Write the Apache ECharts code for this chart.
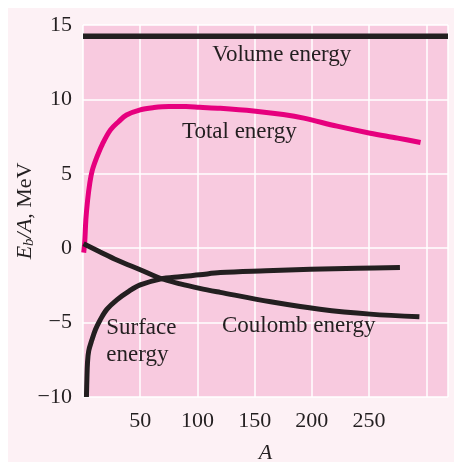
<!DOCTYPE html>
<html>
<head>
<meta charset="utf-8">
<script src="https://cdn.jsdelivr.net/npm/echarts@6/dist/echarts.min.js"></script>
<style>
html,body{margin:0;padding:0;background:#fff;}
#wrap{position:absolute;left:8px;top:8px;width:446px;height:454px;background:#fdf1f5;}
#c{width:446px;height:454px;}
</style>
</head>
<body>
<div id="wrap"><div id="c"></div></div>
<script>
// ---- data (A, Eb/A in MeV) ----
var xTicks = [50, 100, 150, 200, 250];
var yTicks = [-10, -5, 0, 5, 10, 15];
var volumeA = [0, 319];
var volumeE = [14.25, 14.25];
var totalA = [0.6, 1.5, 2.5, 4, 6, 8, 12, 17, 24, 31, 38, 50, 62, 75, 90, 102, 120, 149, 175, 193, 222, 251, 275, 295];
var totalE = [-0.3, 0.4, 1.9, 3.2, 4.4, 5.2, 6.1, 7.0, 7.95, 8.5, 8.95, 9.3, 9.45, 9.52, 9.52, 9.47, 9.4, 9.22, 8.98, 8.74, 8.2, 7.73, 7.4, 7.1];
var surfaceA = [3, 3.4, 3.9, 5, 7.8, 11, 15, 21, 29.6, 40, 50, 67.5, 85, 102, 120, 160, 199, 240, 277];
var surfaceE = [-10, -8.8, -7.73, -6.9, -6.16, -5.45, -4.82, -4.1, -3.47, -2.9, -2.47, -2.08, -1.92, -1.79, -1.64, -1.52, -1.42, -1.35, -1.3];
var coulombA = [0.5, 15, 29.6, 50, 67.5, 85, 102, 120, 164, 207, 251, 294];
var coulombE = [0.3, -0.25, -0.79, -1.45, -2.02, -2.4, -2.7, -2.97, -3.6, -4.1, -4.43, -4.6];
// labels: text, anchor A (left edge), anchor E (vertical centre)
var labelTexts = ['Volume energy', 'Total energy', 'Surface', 'energy', 'Coulomb energy'];
var labelA = [113, 86.5, 20.3, 20.3, 121.4];
var labelE = [12.98, 7.83, -5.35, -7.17, -5.22];

function pairs(a, b) { return a.map(function (v, i) { return [v, b[i]]; }); }

var ink = '#231f20';
var serif = '"Liberation Serif", "DejaVu Serif", serif';
var chart = echarts.init(document.getElementById('c'));
var option = {
  animation: false,
  backgroundColor: 'transparent',
  textStyle: { fontFamily: serif },
  grid: { left: 75, top: 17, width: 365, height: 372, show: true, backgroundColor: '#f8cadf', borderWidth: 0,
    containLabel: false, outerBoundsMode: 'none' },
  xAxis: {
    type: 'value', min: 0, max: 319, interval: 50,
    axisLine: { show: false }, axisTick: { show: false },
    splitLine: { show: true, lineStyle: { color: '#ffffff', width: 1.5 } },
    axisLabel: { margin: 13, color: ink, fontSize: 22, fontFamily: serif,
      formatter: function (v) { return xTicks.indexOf(v) >= 0 ? String(v) : ''; } },
    name: 'A', nameLocation: 'middle', nameGap: 45, nameMoveOverlap: false,
    nameTextStyle: { color: ink, fontSize: 22, fontStyle: 'italic', fontFamily: serif }
  },
  yAxis: {
    type: 'value', min: -10, max: 15, interval: 5,
    axisLine: { show: false }, axisTick: { show: false },
    splitLine: { show: true, lineStyle: { color: '#ffffff', width: 1.5 } },
    axisLabel: { margin: 11, color: ink, fontSize: 22, fontFamily: serif,
      formatter: function (v) { return yTicks.indexOf(v) >= 0 ? (v < 0 ? '\u2212' + Math.abs(v) : String(v)) : ''; } },
    name: '{i|E}{s|b}{i|/A}{r|, MeV}', nameLocation: 'middle', nameGap: 46, nameRotate: 90, nameMoveOverlap: false,
    nameTextStyle: { color: ink, fontSize: 22, fontFamily: serif,
      rich: {
        i: { fontStyle: 'italic', fontSize: 22, color: ink, fontFamily: serif, lineHeight: 24 },
        s: { fontStyle: 'italic', fontSize: 15, color: ink, fontFamily: serif, lineHeight: 10, verticalAlign: 'bottom' },
        r: { fontSize: 22, color: ink, fontFamily: serif, lineHeight: 24 }
      } }
  },
  series: [
    { type: 'line', data: pairs(volumeA, volumeE), showSymbol: false, lineStyle: { color: ink, width: 5.5 }, z: 3 },
    { type: 'line', data: pairs(totalA, totalE), smooth: 0.35, showSymbol: false, lineStyle: { color: '#e6007e', width: 5 }, z: 3 },
    { type: 'line', data: pairs(surfaceA, surfaceE), smooth: 0.35, showSymbol: false, lineStyle: { color: ink, width: 5 }, z: 3 },
    { type: 'line', data: pairs(coulombA, coulombE), smooth: 0.35, showSymbol: false, lineStyle: { color: ink, width: 5 }, z: 3 }
  ]
};
chart.setOption(option);
var g = labelTexts.map(function (t, i) {
  var p = chart.convertToPixel({ gridIndex: 0 }, [labelA[i], labelE[i]]);
  return { type: 'text', x: p[0], y: p[1], z: 10,
    style: { text: t, fill: ink, font: '23px ' + serif, textAlign: 'left', textVerticalAlign: 'middle' } };
});
chart.setOption({ graphic: g });
</script>
</body>
</html>
